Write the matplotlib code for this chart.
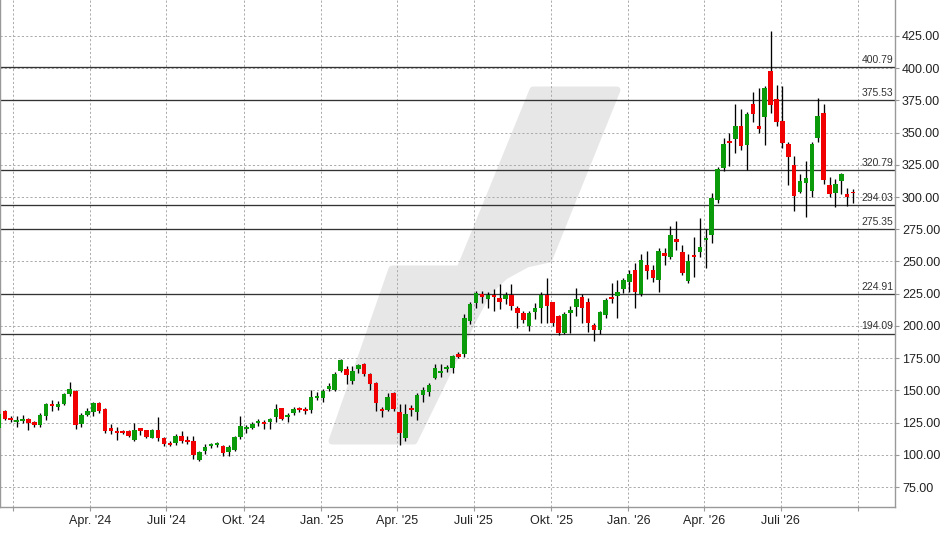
import matplotlib
matplotlib.use('Agg')
import matplotlib.pyplot as plt
import matplotlib.dates as mdates
from matplotlib.patches import Polygon
import matplotlib.transforms as mtransforms
import pandas as pd

# ---- data (weekly candles) ----
opens = [121, 134, 128.6, 125.5, 126.2, 127.8, 125.4, 122.9, 130.4, 139.4,
         137.3, 139.7, 147.2, 149.5, 124.2, 130.9, 133.2, 140.2, 135.5, 120.5,
         118.5, 118.5, 118.5, 111.5, 120.8, 119, 113, 119.2, 113, 109.4,
         109.4, 114.6, 111.5, 110.7, 95.9, 102.9, 106.8, 107.6, 106.8, 102.4,
         103.7, 113.8, 120, 120.8, 124.9, 125.7, 125.7, 129.6, 136.3, 129.3,
         132.7, 136.3, 135.5, 134.7, 144, 144.3, 151, 150.3, 165.3, 166.8,
         157.5, 166.8, 170.4, 162.7, 155.7, 135.5, 134.7, 147.9, 133.2, 113.3,
         136.5, 133.4, 146.4, 149, 159.6, 163.7, 166.8, 167.3, 178.2, 178.4,
         204.1, 218, 224.4, 221.1, 224.3, 222, 221, 224, 214, 210.1,
         200.2, 211.1, 214.2, 224.3, 218.4, 207.7, 194.3, 210.3, 215, 222.8,
         218.6, 200.8, 196.9, 208.5, 222.5, 223.5, 229, 234.1, 243.4, 224.8,
         247.3, 243.4, 235.6, 256.8, 253.7, 267.4, 257.3, 235.1, 255, 257.6,
         266.9, 270.8, 297.7, 322.8, 343.5, 345.3, 355.1, 340.4, 372.2, 355.1,
         362.4, 398.1, 375.8, 359, 341.2, 324.6, 304.2, 311.2, 305, 345.6,
         365, 309.4, 303.4, 312.7, 302.4, 304.2]
highs = [133, 135, 130.1, 129.8, 130.9, 128.2, 126.2, 132.7, 140.5, 142.5,
         141.7, 148, 156.5, 150.3, 132.7, 136.1, 141.2, 141.2, 136.6, 123.6,
         121.3, 119.2, 119, 124.4, 120.8, 119.3, 120.3, 129.3, 114, 110.9,
         116.1, 118.4, 114.6, 114.6, 102.9, 108.4, 108.9, 109.9, 107.3, 107.6,
         114.6, 130.1, 123.1, 125.7, 128, 127, 128.3, 139.4, 136.3, 132.2,
         136.8, 137.3, 136.8, 150.3, 148.4, 151.3, 155.4, 164, 174.6, 169,
         169, 170.4, 171.5, 163.2, 156.7, 136.8, 147.7, 148.7, 139.4, 139.4,
         138.6, 148.2, 152.3, 155.9, 170.2, 170.4, 169.6, 177.1, 179.6, 209,
         218.5, 227.1, 226.8, 226.5, 228.4, 232.6, 226.6, 232.6, 215.8, 211.9,
         211.9, 217.6, 226.6, 237, 218.9, 208.5, 211, 215.8, 229.2, 224.6,
         221.5, 202.1, 211.6, 221.5, 233.6, 235.7, 237.5, 243.4, 249.1, 255.6,
         258.1, 247.3, 260.7, 260.7, 277.5, 281.4, 262.8, 255.8, 269.2, 284,
         274.9, 302.9, 323.6, 345.6, 350, 372.2, 368.3, 366.3, 381.8, 384.4,
         386.2, 428.9, 387, 386.2, 343, 331.9, 317.9, 328.2, 343, 376.6,
         372.2, 315.3, 313.8, 318.9, 306.8, 306]
lows = [120, 127, 125.2, 121.8, 124.4, 119.2, 121.8, 121.6, 127, 134.2,
        134.8, 138.9, 145.6, 120.3, 121.8, 130.4, 130.1, 132.2, 116.7, 116.1,
        111.5, 116.1, 113.6, 110.7, 115, 112.8, 113, 110.7, 106.8, 106.8,
        107.6, 109.4, 108.4, 96.5, 95.5, 100.6, 105, 106.3, 99, 99,
        102.9, 112, 117.2, 119.7, 122.3, 120.3, 120.3, 125.7, 127, 125.7,
        130.6, 133.5, 131.4, 132.2, 142.5, 140.9, 149.7, 149.5, 164, 155,
        155, 163.7, 161, 150.2, 134, 129.5, 134.2, 134.2, 107.8, 111,
        130.1, 127, 140.9, 145.6, 158.5, 160.6, 164.4, 163.7, 175.3, 176,
        201.7, 213.6, 218, 214.2, 211.9, 213.4, 216.8, 212.4, 198.7, 202,
        196.4, 205.2, 202.6, 202.6, 200.2, 193, 194, 194.3, 207.7, 202.6,
        195.6, 188.6, 193.8, 205.9, 217.6, 206.4, 225.3, 226.6, 214.2, 223.2,
        236.4, 234.3, 226.6, 247.3, 251.7, 258.9, 239.5, 233, 238.2, 253.7,
        244.7, 264.6, 295.6, 320.5, 324.1, 334.4, 336.5, 321, 358.5, 349.4,
        340.4, 365.5, 355.1, 337.8, 309.4, 289.4, 302.9, 284.8, 300.3, 343,
        310.1, 299.8, 292.1, 302.4, 293.1, 295.1]
closes = [132, 128, 127.3, 127, 127.8, 124.7, 123.4, 130.9, 139.4, 138.1,
          139.4, 147.2, 151.1, 123.1, 130.9, 134, 140.2, 134, 118.5, 118.5,
          116.9, 116.9, 114.8, 119.2, 118.5, 114, 119.2, 113.3, 108.4, 107.8,
          114.6, 111, 109.9, 99.8, 102.1, 106.3, 108.4, 109.1, 101.1, 106,
          113.5, 122.1, 121.6, 123.9, 126.5, 124.1, 127.8, 135.5, 127.8, 130.9,
          135.3, 134.7, 134, 144.8, 145.6, 149.7, 153.6, 162.7, 173.5, 162.1,
          165, 169.6, 162.7, 155.2, 140.4, 134, 145.1, 135.5, 116.6, 131.6,
          135, 146.4, 150.2, 154.1, 167.3, 165.2, 168.3, 176.6, 176.1, 206.4,
          217.2, 225.3, 222.1, 224.2, 222.7, 218.9, 224.3, 215.8, 210.3, 204.6,
          210.1, 213.7, 224.3, 215.8, 202.3, 194.3, 209.3, 212.4, 221, 214.2,
          202.1, 196.9, 211.1, 220.2, 221, 226.4, 235.7, 240.3, 226.4, 251.2,
          242.9, 237.4, 258.1, 254.5, 270.5, 265.4, 241.3, 250.4, 253.7, 261.2,
          268.2, 299.5, 321.8, 341.2, 341.9, 355.1, 339.6, 364.5, 364.5, 353.1,
          384.4, 371.4, 358.5, 341.7, 330.8, 301.1, 312.5, 314.8, 341.2, 362.9,
          313.2, 302.1, 310.1, 317.6, 299.8, 302.9]
first_week = '2023-12-15'
levels = [400.79, 375.53, 320.79, 294.03, 275.35, 224.91, 194.09]
y_ticks = [75, 100, 125, 150, 175, 200, 225, 250, 275, 300, 325, 350, 375, 400, 425]
quarter_dates = ['2024-01-01', '2024-04-01', '2024-07-01', '2024-10-01',
                 '2025-01-01', '2025-04-01', '2025-07-01', '2025-10-01',
                 '2026-01-01', '2026-04-01', '2026-07-01', '2026-10-01']
quarter_labels = ['', "Apr. '24", "Juli '24", "Okt. '24", "Jan. '25", "Apr. '25",
                  "Juli '25", "Okt. '25", "Jan. '26", "Apr. '26", "Juli '26", '']

plt.rcParams['font.family'] = ['Liberation Sans', 'DejaVu Sans']

W, H = 948, 534
fig = plt.figure(figsize=(W / 100, H / 100), dpi=100)
ax = fig.add_axes([0, 27 / H, 895 / W, 507 / H])

dates = pd.date_range(first_week, periods=len(closes), freq='7D')
xs = mdates.date2num(dates.to_pydatetime())

GREEN = '#0a9a0a'
RED = '#f00000'
body_bottom, body_height, colors = [], [], []
for o, c in zip(opens, closes):
    lo, hi = min(o, c), max(o, c)
    if hi - lo < 1.5:
        mid = (hi + lo) / 2
        lo, hi = mid - 0.75, mid + 0.75
    body_bottom.append(lo)
    body_height.append(hi - lo)
    colors.append(GREEN if c >= o else RED)

ax.vlines(xs, lows, highs, color='black', linewidth=0.95, zorder=3)
ax.bar(xs, body_height, bottom=body_bottom, width=5.4, color=colors,
       linewidth=0, zorder=4)

# watermark logo (decorative)
pts_px = [(533, 90), (617, 90), (549, 259), (527, 264), (505, 276),
          (488, 292), (474, 318), (414, 441), (332, 441), (392, 269),
          (460, 269)]
poly = Polygon([(x / W, 1 - y / H) for x, y in pts_px], closed=True,
               transform=fig.transFigure, facecolor='#e7e7e7',
               edgecolor='#e7e7e7', linewidth=5, joinstyle='round', zorder=0.2)
ax.add_patch(poly)

# level lines
trans = mtransforms.blended_transform_factory(ax.transAxes, ax.transData)
for lv in levels:
    ax.axhline(lv, color='#333333', linewidth=0.95, zorder=2)
    ax.annotate(f'{lv:.2f}', xy=(0.998, lv), xycoords=trans,
                xytext=(0, 1.5), textcoords='offset points',
                ha='right', va='bottom', fontsize=7.5, color='#333333', zorder=5)

base = mdates.date2num(pd.Timestamp('2024-01-01').to_pydatetime())
ax.set_xlim(base - 15.8, base + 1047.8)
ax.set_ylim(59.5, 452.9)

qx = mdates.date2num(pd.to_datetime(quarter_dates).to_pydatetime())
ax.set_xticks(qx)
ax.set_xticklabels(quarter_labels)
ax.set_yticks(y_ticks)
ax.set_yticklabels([f'{v:.2f}' for v in y_ticks])
ax.yaxis.tick_right()

ax.grid(True, color='#aaaaaa', linestyle=(0, (2.2, 2.2)), linewidth=0.7)
ax.set_axisbelow(True)

for s in ['left', 'bottom', 'right']:
    ax.spines[s].set_color('#999999')
    ax.spines[s].set_linewidth(1.0)
ax.spines['top'].set_visible(False)
ax.tick_params(axis='both', colors='#999999', length=3, width=0.8,
               labelcolor='#222222', labelsize=9)
ax.tick_params(axis='y', pad=2)
ax.tick_params(axis='x', pad=3)

fig.savefig('out.png', dpi=100)
